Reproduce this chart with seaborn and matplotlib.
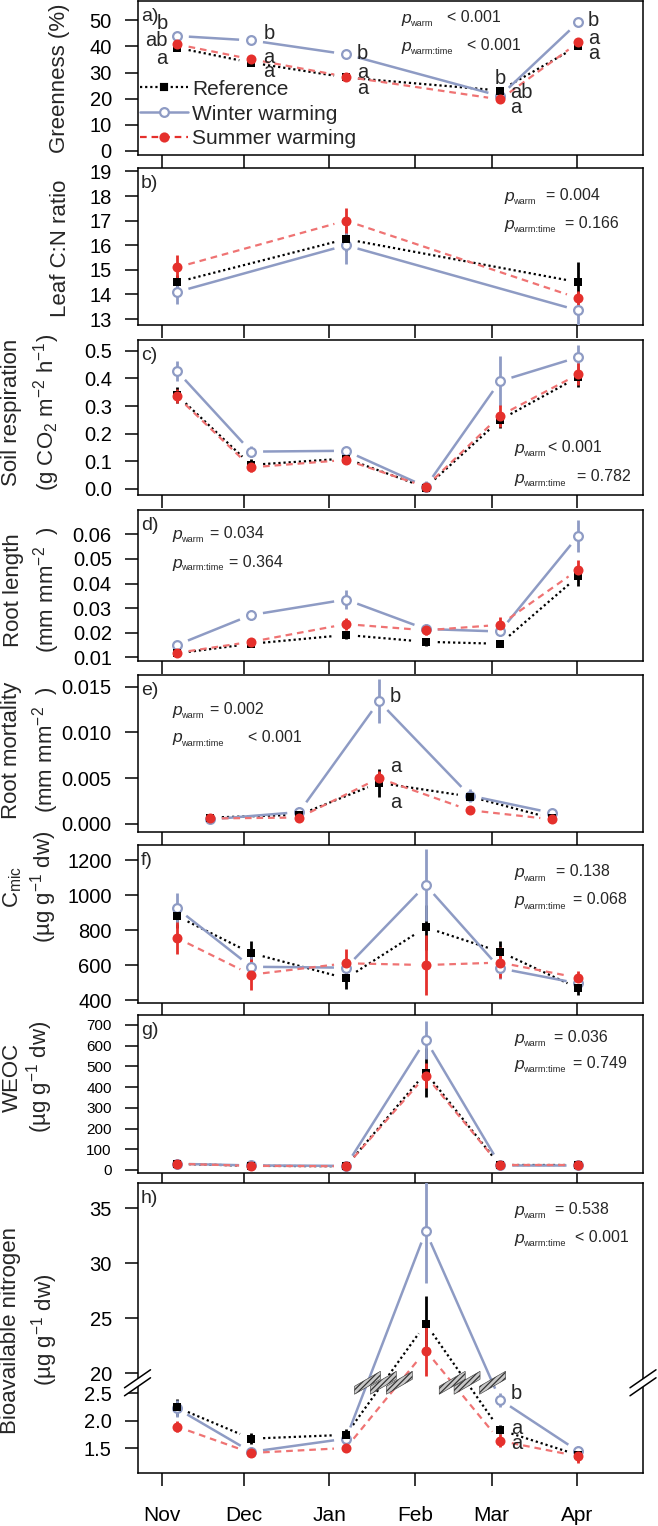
"""
Winter vs summer warming: seasonal responses of vegetation, roots and soil
(eight stacked panels, reference / winter warming / summer warming).
"""

import numpy as np
import matplotlib
matplotlib.use("Agg")
import matplotlib.pyplot as plt
from matplotlib.lines import Line2D
from matplotlib.patches import Polygon
from matplotlib.transforms import IdentityTransform
import seaborn as sns

# ── Data ──────────────────────────────────────────────────────────────────────
# x positions are days since 1 November
MONTHS = ["Nov", "Dec", "Jan", "Feb", "Mar", "Apr"]
MONTH_DAYS = [0, 30, 61, 92, 120, 151]
DAYS = [5.5, 32.5, 67, 96, 123, 151.5]
DAYS_A = [5.5, 32.5, 67, 123, 151.5]
DAYS_B = [5.5, 67, 151.5]
DAYS_E = [17.5, 50, 79, 112, 142]

SERIES = ["Reference", "Winter warming", "Summer warming"]

GREEN = {"Reference": [39.5, 33.8, 28.1, 23.1, 40.2],
         "Winter warming": [44.0, 42.3, 37.0, 21.0, 49.3],
         "Summer warming": [40.8, 35.1, 28.4, 19.7, 41.5]}
GREEN_SE = {"Reference": [1.2, 1.2, 1.2, 1.5, 1.2],
            "Winter warming": [1.0, 1.0, 1.0, 1.0, 1.0],
            "Summer warming": [1.2, 1.2, 1.2, 1.2, 1.2]}

CN = {"Reference": [14.5, 16.25, 14.5],
      "Winter warming": [14.1, 16.0, 13.35],
      "Summer warming": [15.1, 17.0, 13.85]}
CN_SE = {"Reference": [0.3, 0.5, 0.8],
         "Winter warming": [0.5, 0.75, 0.7],
         "Summer warming": [0.5, 0.5, 0.3]}

RESP = {"Reference": [0.34, 0.087, 0.11, 0.005, 0.25, 0.405],
        "Winter warming": [0.427, 0.135, 0.138, 0.008, 0.39, 0.477],
        "Summer warming": [0.335, 0.078, 0.105, 0.008, 0.265, 0.415]}
RESP_SE = {"Reference": [0.03, 0.02, 0.015, 0.005, 0.03, 0.035],
           "Winter warming": [0.035, 0.02, 0.015, 0.02, 0.09, 0.045],
           "Summer warming": [0.025, 0.015, 0.01, 0.005, 0.04, 0.04]}

ROOTLEN = {"Reference": [0.0116, 0.0155, 0.0191, 0.0163, 0.0155, 0.0430],
           "Winter warming": [0.0150, 0.0272, 0.0335, 0.0215, 0.0205, 0.0595],
           "Summer warming": [0.0118, 0.0163, 0.0235, 0.0210, 0.0232, 0.0457]}
ROOTLEN_SE = {"Reference": [0.001, 0.0015, 0.0015, 0.0015, 0.0015, 0.004],
              "Winter warming": [0.001, 0.002, 0.004, 0.002, 0.002, 0.0065],
              "Summer warming": [0.0015, 0.0015, 0.0025, 0.002, 0.003, 0.004]}

ROOTMORT = {"Reference": [0.0007, 0.0010, 0.0045, 0.0030, 0.0006],
            "Winter warming": [0.0005, 0.0013, 0.0134, 0.0031, 0.0012],
            "Summer warming": [0.0006, 0.0007, 0.0050, 0.0015, 0.0005]}
ROOTMORT_SE = {"Reference": [0.0003, 0.0003, 0.0015, 0.0004, 0.0003],
               "Winter warming": [0.0003, 0.0006, 0.0024, 0.0007, 0.0003],
               "Summer warming": [0.0003, 0.0003, 0.0008, 0.0003, 0.0003]}

CMIC = {"Reference": [880, 668, 524, 815, 676, 467],
        "Winter warming": [924, 590, 585, 1057, 581, 495],
        "Summer warming": [755, 545, 610, 600, 614, 527]}
CMIC_SE = {"Reference": [70, 70, 60, 130, 60, 40],
           "Winter warming": [90, 60, 40, 205, 60, 30],
           "Summer warming": [90, 90, 80, 170, 90, 40]}

WEOC = {"Reference": [30, 20, 18, 470, 22, 22],
        "Winter warming": [30, 22, 20, 628, 25, 25],
        "Summer warming": [30, 20, 18, 455, 22, 22]}
WEOC_SE = {"Reference": [10, 8, 8, 118, 8, 8],
           "Winter warming": [10, 8, 8, 90, 8, 8],
           "Summer warming": [10, 8, 8, 60, 8, 8]}

NBIO = {"Reference": [2.24, 1.67, 1.74, 24.5, 1.83, 1.37],
        "Winter warming": [2.22, 1.43, 1.67, 32.9, 2.38, 1.44],
        "Summer warming": [1.89, 1.41, 1.50, 22.05, 1.63, 1.35]}
NBIO_SE = {"Reference": [0.15, 0.1, 0.1, 2.5, 0.08, 0.1],
           "Winter warming": [0.15, 0.08, 0.08, 4.7, 0.13, 0.1],
           "Summer warming": [0.1, 0.08, 0.05, 2.3, 0.12, 0.12]}

P_VALUES = {"a": ("< 0.001", "< 0.001"), "b": ("= 0.004", "= 0.166"),
            "c": ("< 0.001", "= 0.782"), "d": ("= 0.034", "= 0.364"),
            "e": ("= 0.002", "< 0.001"), "f": ("= 0.138", "= 0.068"),
            "g": ("= 0.036", "= 0.749"), "h": ("= 0.538", "< 0.001")}

# letters: (text, day, value, alignment)
LETTERS_A = [("b", 2.3, 48.7, "right"), ("ab", 2, 42.1, "right"), ("a", 2, 35.4, "right"),
             ("b", 37, 44.8, "left"), ("a", 37, 35.8, "left"), ("a", 37, 30.2, "left"),
             ("b", 71, 37.1, "left"), ("a", 71, 30.0, "left"), ("a", 71, 24.0, "left"),
             ("b", 123.3, 27.8, "center"), ("ab", 126.6, 22.2, "left"), ("a", 126.8, 16.6, "left"),
             ("b", 155, 50.0, "left"), ("a", 155, 43.0, "left"), ("a", 155, 37.2, "left")]
LETTERS_E = [("b", 83, 0.0139, "left"), ("a", 83, 0.0063, "left"), ("a", 83, 0.0023, "left")]
LETTERS_H = [("b", 127, 2.5, "left"), ("a", 127, 1.86, "left"), ("a", 127, 1.59, "left")]

# broken y axis of panel h
H_LOW_TOP, H_HIGH_BOTTOM, H_SQUEEZE = 2.687, 19.12, 0.2


def hmap(v):
    v = np.asarray(v, dtype=float)
    return np.where(v <= H_LOW_TOP, v, H_LOW_TOP + (v - H_HIGH_BOTTOM) * H_SQUEEZE)


# ── Style ─────────────────────────────────────────────────────────────────────
W, H, DPI = 658, 1526, 100
sns.set_theme(style="ticks")
plt.rcParams["font.family"] = ["Liberation Sans", "DejaVu Sans"]
plt.rcParams.update({
    "mathtext.fontset": "custom",
    "mathtext.rm": "Liberation Sans",
    "mathtext.it": "Liberation Sans:italic",
    "mathtext.bf": "Liberation Sans:bold",
    "mathtext.default": "regular",
    "axes.linewidth": 1.1,
    "axes.edgecolor": "black",
    "xtick.color": "black",
    "ytick.color": "black",
    "hatch.linewidth": 0.9,
})

STYLE = {
    "Reference": dict(edge="black", face="black", line="black", ls=(0, (1, 1.3)),
                      marker="s", size=6.3, lw=1.6, mew=0, z=5),
    "Winter warming": dict(edge="#8E9BC4", face="white", line="#8E9BC4", ls="-",
                           marker="o", size=6.3, lw=1.8, mew=1.6, z=4),
    "Summer warming": dict(edge="#E5302C", face="#E5302C", line="#EF7373", ls=(0, (3, 2.2)),
                           marker="o", size=7.2, lw=1.6, mew=0, z=6),
}

GAP_PX = 12
TICK_FS, LAB_FS, TXT_FS = 14.5, 16, 15


def fx(px):
    return px / W


def fy(py):
    return 1 - py / H


def gapped_line(ax, xs, ys, gap, **kw):
    pts = ax.transData.transform(np.column_stack([xs, ys]))
    inv = ax.transData.inverted()
    for p0, p1 in zip(pts[:-1], pts[1:]):
        d = p1 - p0
        length = np.hypot(*d)
        if length <= 2 * gap:
            continue
        u = d / length
        seg = inv.transform(np.vstack([p0 + u * gap, p1 - u * gap]))
        ax.plot(seg[:, 0], seg[:, 1], **kw)


def draw_series(ax, x, means, ses, ymap=None):
    ymap = ymap or (lambda v: np.asarray(v, dtype=float))
    for name in SERIES:
        st = STYLE[name]
        m = np.asarray(means[name], dtype=float)
        e = np.asarray(ses[name], dtype=float)
        gapped_line(ax, x, ymap(m), GAP_PX, color=st["line"], ls=st["ls"],
                    lw=st["lw"], zorder=2, solid_capstyle="butt")
        ax.vlines(x, ymap(m - e), ymap(m + e), color=st["edge"], lw=2.0, zorder=3)
    for name in SERIES:
        st = STYLE[name]
        sns.scatterplot(x=x, y=ymap(means[name]), ax=ax, marker=st["marker"],
                        s=st["size"] ** 2, color=st["face"], edgecolor=st["edge"],
                        linewidth=st["mew"], zorder=st["z"], legend=False)


# ── Layout ────────────────────────────────────────────────────────────────────
POS = [(1.5, 155), (168, 325), (340, 495), (510, 661),
       (675, 832), (845, 1003), (1015, 1173), (1183, 1473)]
X_LEFT, X_RIGHT = 137.5, 643
XLIM = (-8.8, 175)

fig = plt.figure(figsize=(W / DPI, H / DPI), dpi=DPI)
axes = []
for top, bot in POS:
    ax = fig.add_axes([fx(X_LEFT), fy(bot), (X_RIGHT - X_LEFT) / W, (bot - top) / H])
    ax.set_xlim(*XLIM)
    ax.set_xticks(MONTH_DAYS)
    ax.set_xticklabels([])
    ax.tick_params(axis="both", length=9.5, width=1.1, labelsize=TICK_FS, pad=9)
    for s in ax.spines.values():
        s.set_visible(True)
        s.set_linewidth(1.1)
    ax.grid(False)
    axes.append(ax)

ax_a, ax_b, ax_c, ax_d, ax_e, ax_f, ax_g, ax_h = axes

ax_a.set_ylim(-1.6, 57.2)
ax_a.set_yticks([0, 10, 20, 30, 40, 50])
ax_b.set_ylim(12.76, 19.14)
ax_b.set_yticks(range(13, 20))
ax_c.set_ylim(-0.022, 0.539)
ax_c.set_yticks([0, 0.1, 0.2, 0.3, 0.4, 0.5])
ax_c.set_yticklabels(["0.0", "0.1", "0.2", "0.3", "0.4", "0.5"])
ax_d.set_ylim(0.0085, 0.0699)
ax_d.set_yticks([0.01, 0.02, 0.03, 0.04, 0.05, 0.06])
ax_d.set_yticklabels(["0.01", "0.02", "0.03", "0.04", "0.05", "0.06"])
ax_e.set_ylim(-0.00088, 0.01628)
ax_e.set_yticks([0, 0.005, 0.010, 0.015])
ax_e.set_yticklabels(["0.000", "0.005", "0.010", "0.015"])
ax_f.set_ylim(383, 1286)
ax_f.set_yticks([400, 600, 800, 1000, 1200])
ax_g.set_ylim(-14.5, 748)
ax_g.set_yticks(range(0, 701, 100))
ax_g.tick_params(axis="y", labelsize=11)
H_TICKS = [1.5, 2.0, 2.5, 20, 25, 30, 35]
ax_h.set_ylim(1.045, 6.323)
ax_h.set_yticks(hmap(H_TICKS))
ax_h.set_yticklabels(["1.5", "2.0", "2.5", "20", "25", "30", "35"])
ax_h.set_xticklabels(MONTHS, fontsize=15)
ax_h.tick_params(axis="x", pad=14)

# ── Series ────────────────────────────────────────────────────────────────────
draw_series(ax_a, DAYS_A, GREEN, GREEN_SE)
draw_series(ax_b, DAYS_B, CN, CN_SE)
draw_series(ax_c, DAYS, RESP, RESP_SE)
draw_series(ax_d, DAYS, ROOTLEN, ROOTLEN_SE)
draw_series(ax_e, DAYS_E, ROOTMORT, ROOTMORT_SE)
draw_series(ax_f, DAYS, CMIC, CMIC_SE)
draw_series(ax_g, DAYS, WEOC, WEOC_SE)
draw_series(ax_h, DAYS, NBIO, NBIO_SE, ymap=hmap)

# letters
for ax, letters, ymap in [(ax_a, LETTERS_A, None), (ax_e, LETTERS_E, None), (ax_h, LETTERS_H, hmap)]:
    for txt, xd, yv, ha in letters:
        yy = float(ymap(yv)) if ymap else yv
        ax.text(xd, yy, txt, ha=ha, va="center", fontsize=14.5, zorder=8)

# legend
handles = [Line2D([], [], color=STYLE[n]["line"] if n != "Summer warming" else STYLE[n]["edge"],
                  ls=STYLE[n]["ls"], lw=STYLE[n]["lw"], marker=STYLE[n]["marker"],
                  markersize=STYLE[n]["size"], markerfacecolor=STYLE[n]["face"],
                  markeredgecolor=STYLE[n]["edge"], markeredgewidth=max(STYLE[n]["mew"], 0.1))
           for n in SERIES]
ax_a.legend(handles, SERIES, loc="upper left", bbox_to_anchor=(0.005, 0.49), frameon=False,
            fontsize=TXT_FS, handlelength=2.3, handletextpad=0.2, labelspacing=0.28,
            borderaxespad=0, borderpad=0)

# panel tags
for ax, tag in zip(axes, "abcdefgh"):
    ax.annotate(f"{tag})", xy=(0, 1), xycoords="axes fraction", xytext=(2.5, -5),
                textcoords="offset points", ha="left", va="top", fontsize=14)

# p values: (panel, x of p, x of value 1, x of value 2, y line 1, y line 2)
P_POS = [("a", 401, 447, 467, 18, 45), ("b", 504, 546, 565, 196, 223),
         ("c", 514, 548, 577, 448, 477), ("d", 172, 210, 229, 534, 562),
         ("e", 172, 210, 248, 709, 737), ("f", 514, 556, 573, 872, 900),
         ("g", 514, 554, 573, 1037, 1063), ("h", 514, 555, 575, 1210, 1237)]
for tag, xp, xv1, xv2, y1, y2 in P_POS:
    v1, v2 = P_VALUES[tag]
    for yl, sub, xv, val in [(y1, "warm", xv1, v1), (y2, "warm:time", xv2, v2)]:
        fig.text(fx(xp), fy(yl + 1), "p", fontsize=12.5, fontstyle="italic", va="center")
        fig.text(fx(xp + 9.5), fy(yl + 6), sub, fontsize=6.6, va="center")
        fig.text(fx(xv), fy(yl), val, fontsize=11.5, va="center")

# y labels: (lines, x centres, y centre)
YLABELS = [(["Greenness (%)"], [60], 78),
           (["Leaf C:N ratio"], [61], 248),
           (["Soil respiration", r"(g CO$_2$ m$^{-2}$ h$^{-1}$)"], [12, 47], 412),
           (["Root length", r"(mm mm$^{-2}$  )"], [14, 47], 590),
           (["Root mortality", r"(mm mm$^{-2}$  )"], [12, 46], 750),
           ([r"C$_{\mathrm{mic}}$", r"(µg g$^{-1}$ dw)"], [13, 44], 887),
           (["WEOC", r"(µg g$^{-1}$ dw)"], [12, 40], 1077),
           (["Bioavailable nitrogen", r"(µg g$^{-1}$ dw)"], [11, 45], 1330)]
for lines, xs, yc in YLABELS:
    for txt, xc in zip(lines, xs):
        fig.text(fx(xc), fy(yc), txt, rotation=90, ha="center", va="center", fontsize=LAB_FS)

# ── Axis break for panel h ───────────────────────────────────────────────────
yb = ax_h.transData.transform((0, H_LOW_TOP))[1]
x0, x1 = ax_h.transData.transform((XLIM[0], 0))[0], ax_h.transData.transform((XLIM[1], 0))[0]
for xc in (x0, x1):
    off = 4
    a = np.array([[xc - 13, yb - 9 - off], [xc + 13, yb + 9 - off],
                  [xc + 13, yb + 9 + off], [xc - 13, yb - 9 + off]])
    fig.add_artist(Polygon(a, closed=True, facecolor="white", edgecolor="none",
                           transform=IdentityTransform(), zorder=5))
    for o in (-off, off):
        fig.add_artist(Line2D([xc - 13, xc + 13], [yb - 9 + o, yb + 9 + o], color="black",
                              lw=1.1, transform=IdentityTransform(), zorder=6))

# slash marks where lines cross the break
ang = np.deg2rad(30)
u = np.array([np.cos(ang), np.sin(ang)])
v = np.array([0, 1.0])
for name in SERIES:
    pts = ax_h.transData.transform(np.column_stack([DAYS, hmap(NBIO[name])]))
    for p0, p1 in zip(pts[:-1], pts[1:]):
        if (p0[1] - yb) * (p1[1] - yb) < 0:
            t = (yb - p0[1]) / (p1[1] - p0[1])
            c = p0 + t * (p1 - p0)
            corners = np.array([c - 15 * u - 4 * v, c + 15 * u - 4 * v,
                                c + 15 * u + 4 * v, c - 15 * u + 4 * v])
            fig.add_artist(Polygon(corners, closed=True, facecolor="#c8c8c8", edgecolor="#333333",
                                   hatch="//////", lw=0.4, transform=IdentityTransform(), zorder=3))

fig.savefig("out.png", dpi=DPI)
